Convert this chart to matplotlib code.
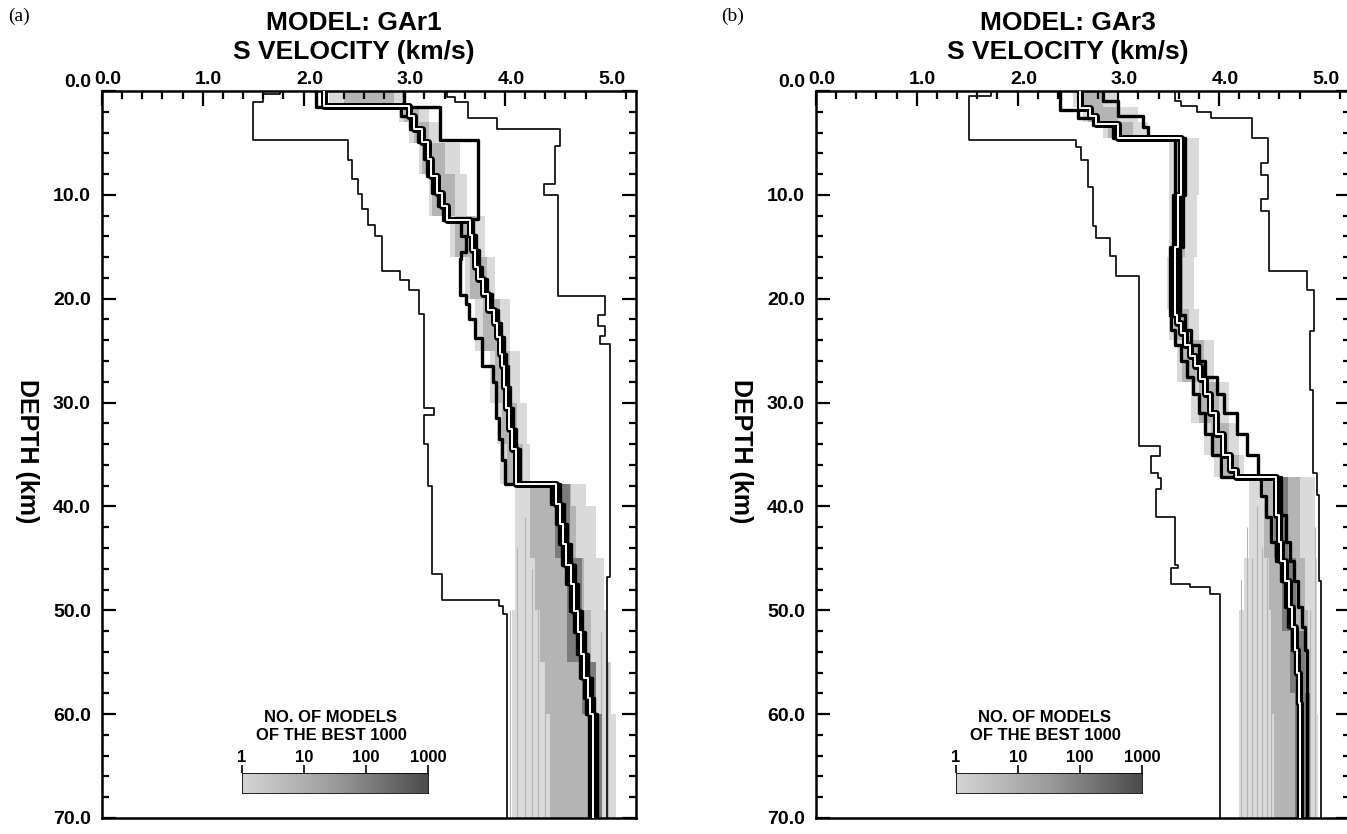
import matplotlib
matplotlib.use('Agg')
import matplotlib.pyplot as plt
import matplotlib.transforms as mtransforms
import numpy as np
from matplotlib.ticker import MultipleLocator, FixedLocator
from matplotlib.colors import LinearSegmentedColormap

plt.rcParams['font.family'] = ['Liberation Sans', 'DejaVu Sans']
plt.rcParams['font.weight'] = 'bold'

# ---- panel (a) GAr1: depth of layer tops (km) and S velocity (km/s) ----
a_min_top = [0, 0.3, 1.1, 4.7, 6.6, 8.5, 9.9, 11.4, 12.9, 14.0, 17.3, 18.2, 19.2, 21.5,
             30.5, 31.2, 34.0, 38.0, 46.5, 49.0, 49.6, 50.4]
a_min_vs = [1.77, 1.6, 1.5, 2.44, 2.48, 2.54, 2.58, 2.64, 2.71, 2.78, 2.96, 3.05, 3.15, 3.20,
            3.30, 3.20, 3.24, 3.28, 3.37, 3.94, 3.98, 4.02]
a_max_top = [0, 0.6, 1.1, 2.6, 3.7, 5.3, 9.0, 10.0, 19.7, 21.6, 22.6, 23.6, 24.4, 46.8]
a_max_vs = [3.42, 3.5, 3.63, 3.92, 4.55, 4.50, 4.39, 4.53, 4.99, 4.92, 4.99, 4.94, 5.04, 5.01]
a_best_top = [0, 1.4, 2.4, 3.7, 4.9, 6.5, 8.2, 9.8, 11.1, 12.4, 13.9, 15.3, 16.9, 18.1, 19.5,
              21.1, 22.3, 23.7, 25.3, 26.5, 28.5, 30.5, 32.5, 34.5, 37.8, 39.8, 41.7, 43.6,
              45.6, 47.5, 50.1, 52.1, 54.2, 56.5, 58.4, 60.0]
a_best_vs = [2.2, 3.05, 3.1, 3.18, 3.24, 3.27, 3.32, 3.37, 3.42, 3.65, 3.67, 3.70, 3.73, 3.78,
             3.83, 3.89, 3.92, 3.95, 3.97, 3.99, 4.01, 4.04, 4.07, 4.11, 4.51, 4.55, 4.58,
             4.61, 4.65, 4.68, 4.72, 4.75, 4.78, 4.82, 4.84, 4.87]
a_lo_top = [0, 1.5, 2.4, 3.7, 4.9, 6.5, 8.2, 9.8, 11.1, 12.4, 14.0, 15.5, 16.2, 19.6, 20.5,
            22.0, 23.8, 26.5, 28.0, 31.5, 33.5, 35.5, 37.8, 39.8, 41.7, 43.6, 45.6, 47.5,
            50.1, 52.1, 54.2, 56.5, 58.4, 60.0]
a_lo_vs = [2.12, 2.97, 3.06, 3.14, 3.20, 3.23, 3.28, 3.33, 3.38, 3.56, 3.61, 3.56, 3.55, 3.61,
           3.64, 3.70, 3.77, 3.88, 3.91, 3.94, 3.97, 4.00, 4.46, 4.51, 4.54, 4.57, 4.61,
           4.64, 4.68, 4.71, 4.74, 4.78, 4.80, 4.83]
a_hi_top = [0, 1.5, 4.7, 12.3, 13.9, 15.3, 16.9, 18.1, 19.5, 21.1, 22.3, 23.7, 25.3, 26.5,
            28.5, 30.5, 32.5, 34.5, 37.8, 39.8, 41.7, 43.6, 45.6, 47.5, 50.1, 52.1, 54.2,
            56.5, 58.4, 60.0]
a_hi_vs = [3.0, 3.35, 3.73, 3.68, 3.71, 3.74, 3.77, 3.82, 3.87, 3.93, 3.96, 3.99, 4.01, 4.03,
           4.05, 4.08, 4.11, 4.15, 4.55, 4.59, 4.62, 4.65, 4.69, 4.72, 4.76, 4.79, 4.82,
           4.86, 4.88, 4.91]
# spread of the best 1000 models (light = few, mid = more, core = most)
a_band_top = [0, 1.5, 3, 5, 8, 12, 16, 20, 25, 30, 34, 37.8, 40, 45, 50, 55, 60, 65]
a_light_lo = [2.25, 2.95, 3.05, 3.15, 3.25, 3.45, 3.6, 3.7, 3.85, 3.92, 3.95, 4.1, 4.1, 4.1,
              4.07, 4.07, 4.07, 4.07]
a_light_hi = [3.0, 3.25, 3.35, 3.55, 3.62, 3.8, 3.9, 4.05, 4.15, 4.22, 4.25, 4.8, 4.9, 4.98,
              5.0, 5.05, 5.1, 5.1]
a_mid_lo = [2.4, 3.0, 3.1, 3.18, 3.28, 3.5, 3.65, 3.78, 3.9, 3.97, 4.02, 4.25, 4.25, 4.3,
            4.35, 4.4, 4.45, 4.45]
a_mid_hi = [2.9, 3.15, 3.25, 3.4, 3.5, 3.7, 3.82, 3.95, 4.05, 4.12, 4.18, 4.65, 4.7, 4.78,
            4.85, 4.9, 4.95, 4.95]
a_core_top = [37.8, 45, 55, 60]
a_core_lo = [4.5, 4.62, 4.76, 4.82]
a_core_hi = [4.64, 4.76, 4.9, 4.96]
a_streak_v = [4.05, 4.12, 4.2, 4.27, 4.33, 4.4, 4.47, 4.53, 4.6, 4.95, 5.02]
a_streak_top = [50, 44, 41, 46, 40, 43, 39, 45, 48, 52, 55]

# ---- panel (b) GAr3 ----
b_min_top = [0, 0.5, 4.7, 5.4, 6.6, 9.2, 13.0, 14.2, 15.9, 17.8, 34.2, 35.1, 36.8, 37.3,
             38.3, 41.0, 45.6, 45.9, 47.5, 47.8, 48.4]
b_min_vs = [1.74, 1.52, 2.58, 2.63, 2.70, 2.75, 2.78, 2.92, 2.98, 3.21, 3.41, 3.32, 3.39, 3.42,
            3.37, 3.56, 3.59, 3.52, 3.71, 3.91, 4.01]
b_max_top = [0, 1.0, 1.4, 2.0, 2.6, 4.5, 6.9, 8.1, 10.4, 11.6, 17.3, 19.2, 23.1, 28.8, 36.8,
             38.9, 47.2]
b_max_vs = [3.56, 3.62, 3.78, 3.92, 4.33, 4.49, 4.42, 4.49, 4.42, 4.50, 4.87, 4.94, 4.90, 4.93,
            4.97, 4.99, 5.01]
b_best_top = [0, 1.6, 2.4, 3.2, 4.5, 10, 15, 21.6, 22.3, 23.3, 24.5, 25.5, 26.5, 27.7, 29.2,
              31.0, 33.0, 35.0, 36.5, 37.2, 40.8, 43.4, 45.3, 47.2, 49.7, 51.6, 53.8, 56.0,
              58.9]
b_best_vs = [2.62, 2.72, 2.78, 3.00, 3.62, 3.59, 3.56, 3.58, 3.62, 3.66, 3.71, 3.76, 3.81, 3.86,
             3.91, 3.97, 4.04, 4.11, 4.17, 4.57, 4.60, 4.62, 4.65, 4.69, 4.72, 4.75, 4.77,
             4.79, 4.80]
b_lo_top = [0, 1.8, 2.6, 3.3, 4.5, 10, 15, 21.6, 23.0, 24.5, 26.0, 27.5, 29.2, 31.0, 33.0,
            35.0, 37.2, 39.0, 41.0, 43.4, 45.3, 47.2, 49.7, 51.6, 53.8, 56.0, 58.9]
b_lo_vs = [2.42, 2.6, 2.75, 2.95, 3.56, 3.54, 3.51, 3.52, 3.56, 3.62, 3.68, 3.74, 3.80, 3.86,
           3.93, 4.02, 4.42, 4.47, 4.52, 4.57, 4.62, 4.65, 4.68, 4.72, 4.75, 4.77, 4.78]
b_hi_top = [0, 1.0, 2.4, 3.5, 4.5, 10, 15, 21.6, 23.0, 24.5, 26.0, 27.5, 29.2, 31.0, 33.0,
            35.0, 37.2, 40.8, 43.4, 45.3, 47.2, 49.7, 51.6, 53.8]
b_hi_vs = [2.85, 3.0, 3.25, 3.3, 3.66, 3.64, 3.61, 3.66, 3.72, 3.80, 3.86, 3.98, 4.05, 4.18,
           4.28, 4.39, 4.62, 4.66, 4.70, 4.74, 4.78, 4.82, 4.85, 4.87]
b_band_top = [0, 1.5, 3, 4.5, 10, 16, 21, 24, 28, 32, 35, 37.2, 45, 50, 60]
b_light_lo = [2.55, 2.65, 2.85, 3.5, 3.5, 3.48, 3.5, 3.58, 3.72, 3.85, 3.95, 4.3, 4.25, 4.2, 4.2]
b_light_hi = [3.0, 3.2, 3.3, 3.8, 3.78, 3.75, 3.8, 3.95, 4.1, 4.2, 4.25, 4.95, 4.97, 4.97, 4.98]
b_mid_lo = [2.6, 2.7, 2.9, 3.55, 3.54, 3.52, 3.55, 3.63, 3.8, 3.92, 4.05, 4.45, 4.5, 4.52, 4.55]
b_mid_hi = [2.85, 3.0, 3.15, 3.68, 3.66, 3.64, 3.7, 3.85, 4.0, 4.1, 4.2, 4.8, 4.85, 4.88, 4.9]
b_core_top = [37.2, 45, 52, 58]
b_core_lo = [4.55, 4.63, 4.7, 4.75]
b_core_hi = [4.68, 4.76, 4.85, 4.9]
b_streak_v = [4.22, 4.28, 4.33, 4.38, 4.43, 4.48, 4.52, 4.9, 4.95]
b_streak_top = [47, 42, 45, 40, 44, 39, 46, 50, 42]

xticks = [0.0, 1.0, 2.0, 3.0, 4.0, 5.0]
yticks = [0.0, 10.0, 20.0, 30.0, 40.0, 50.0, 60.0, 70.0]
cbar_ticks = [1, 10, 100, 1000]

DMAX = 70.0
W, H = 1347, 834
TOP, BOT, WID = 91, 818, 534


def profile(tops, vals):
    d = list(tops) + [DMAX]
    v = list(vals) + [vals[-1]]
    return v, d


def band(ax, tops, lo, hi, color, z=1):
    d = list(tops) + [DMAX]
    ax.fill_betweenx(d, list(lo) + [lo[-1]], list(hi) + [hi[-1]], step='post',
                     color=color, lw=0, zorder=z)


def panel(left_px, letter, model, mn, mx, best, lo, hi, light, mid, core, streaks):
    ax = fig.add_axes([left_px / W, 1 - BOT / H, WID / W, (BOT - TOP) / H])
    band(ax, *light, '#dadada')
    band(ax, *mid, '#b4b4b4')
    band(ax, *core, '#7c7c7c', z=1.5)
    ax.vlines(streaks[0], streaks[1], DMAX, color='#b4b4b4', lw=0.8, zorder=1.2)
    for tops, vs in (mn, mx):
        v, d = profile(tops, vs)
        ax.plot(v, d, drawstyle='steps-pre', color='black', lw=1.2, zorder=3)
    for tops, vs in (lo, hi):
        v, d = profile(tops, vs)
        ax.plot(v, d, drawstyle='steps-pre', color='black', lw=2.4, zorder=4)
    v, d = profile(*best)
    ax.plot(v, d, drawstyle='steps-pre', color='black', lw=5.0, zorder=5)
    ax.plot(v, d, drawstyle='steps-pre', color='white', lw=1.4, zorder=6)

    ax.set_xlim(0, 5.3)
    ax.set_ylim(DMAX, 0)
    ax.xaxis.set_major_locator(FixedLocator(xticks))
    ax.xaxis.set_minor_locator(MultipleLocator(0.2))
    ax.set_xticklabels(['%.1f' % t for t in xticks])
    ax.yaxis.set_major_locator(FixedLocator(yticks))
    ax.yaxis.set_minor_locator(MultipleLocator(2))
    ax.set_yticklabels(['%.1f' % t for t in yticks])
    ax.tick_params(axis='x', which='both', direction='in', top=True, bottom=False,
                   labeltop=True, labelbottom=False, width=1.6, labelsize=14, pad=2)
    ax.tick_params(axis='x', which='major', length=11)
    ax.tick_params(axis='x', which='minor', length=5.5)
    ax.tick_params(axis='y', which='both', direction='in', left=True, right=True,
                   width=1.6, labelsize=14, pad=8)
    ax.tick_params(axis='y', which='major', length=10)
    ax.tick_params(axis='y', which='minor', length=5)
    shift = mtransforms.ScaledTranslation(0.06, 0, fig.dpi_scale_trans)
    for lab in ax.get_xticklabels():
        lab.set_transform(lab.get_transform() + shift)
    xt = ax.xaxis.get_major_ticks()[-1]
    xt.tick1line.set_visible(False)
    xt.tick2line.set_visible(False)
    ax.yaxis.get_major_ticks()[0].label1.set_verticalalignment('bottom')
    for s in ax.spines.values():
        s.set_linewidth(1.8)

    cx = (left_px + 2.5 * WID / 5.3) / W
    fig.text(cx, 1 - 23 / H, 'MODEL: ' + model, ha='center', va='center',
             fontsize=19, fontweight='bold')
    fig.text(cx, 1 - 52 / H, 'S VELOCITY (km/s)', ha='center', va='center',
             fontsize=19, fontweight='bold')
    fig.text((left_px - 75) / W, 1 - 451 / H, 'DEPTH (km)', rotation=270, ha='center',
             va='center', fontsize=18, fontweight='bold')
    fig.text((left_px - 83) / W, 1 - 16 / H, letter, ha='center', va='center',
             fontsize=14, fontweight='normal', family='Liberation Serif')

    # legend bar
    fig.text((left_px + 229) / W, 1 - 717 / H, 'NO. OF MODELS', ha='center', va='center',
             fontsize=12, fontweight='bold')
    fig.text((left_px + 229) / W, 1 - 736 / H, 'OF THE BEST 1000', ha='center', va='center',
             fontsize=12, fontweight='bold')
    cax = fig.add_axes([(left_px + 140) / W, 1 - 793 / H, 186 / W, 20 / H])
    edges = np.logspace(0, 3, 121)
    cax.pcolormesh(edges, [0, 1], np.log10(edges[:-1])[None, :], cmap=greys,
                   vmin=0, vmax=3, shading='flat')
    cax.set_xscale('log')
    cax.set_xlim(1, 1000)
    cax.set_ylim(0, 1)
    cax.xaxis.set_major_locator(FixedLocator(cbar_ticks))
    cax.xaxis.set_minor_locator(FixedLocator([]))
    cax.set_xticklabels([str(t) for t in cbar_ticks])
    cax.tick_params(axis='x', top=True, bottom=False, labeltop=True, labelbottom=False,
                    direction='out', length=6, width=1.2, labelsize=12, pad=0)
    cax.set_yticks([])
    for s in cax.spines.values():
        s.set_linewidth(0.6)
    return ax


greys = LinearSegmentedColormap.from_list('g', ['#d4d4d4', '#9a9a9a', '#4a4a4a'])

fig = plt.figure(figsize=(W / 100, H / 100), dpi=100)
panel(102, '(a)', 'GAr1', (a_min_top, a_min_vs), (a_max_top, a_max_vs),
      (a_best_top, a_best_vs), (a_lo_top, a_lo_vs), (a_hi_top, a_hi_vs),
      (a_band_top, a_light_lo, a_light_hi), (a_band_top, a_mid_lo, a_mid_hi),
      (a_core_top, a_core_lo, a_core_hi), (a_streak_v, a_streak_top))
panel(816, '(b)', 'GAr3', (b_min_top, b_min_vs), (b_max_top, b_max_vs),
      (b_best_top, b_best_vs), (b_lo_top, b_lo_vs), (b_hi_top, b_hi_vs),
      (b_band_top, b_light_lo, b_light_hi), (b_band_top, b_mid_lo, b_mid_hi),
      (b_core_top, b_core_lo, b_core_hi), (b_streak_v, b_streak_top))

fig.savefig('out.png', dpi=100)
